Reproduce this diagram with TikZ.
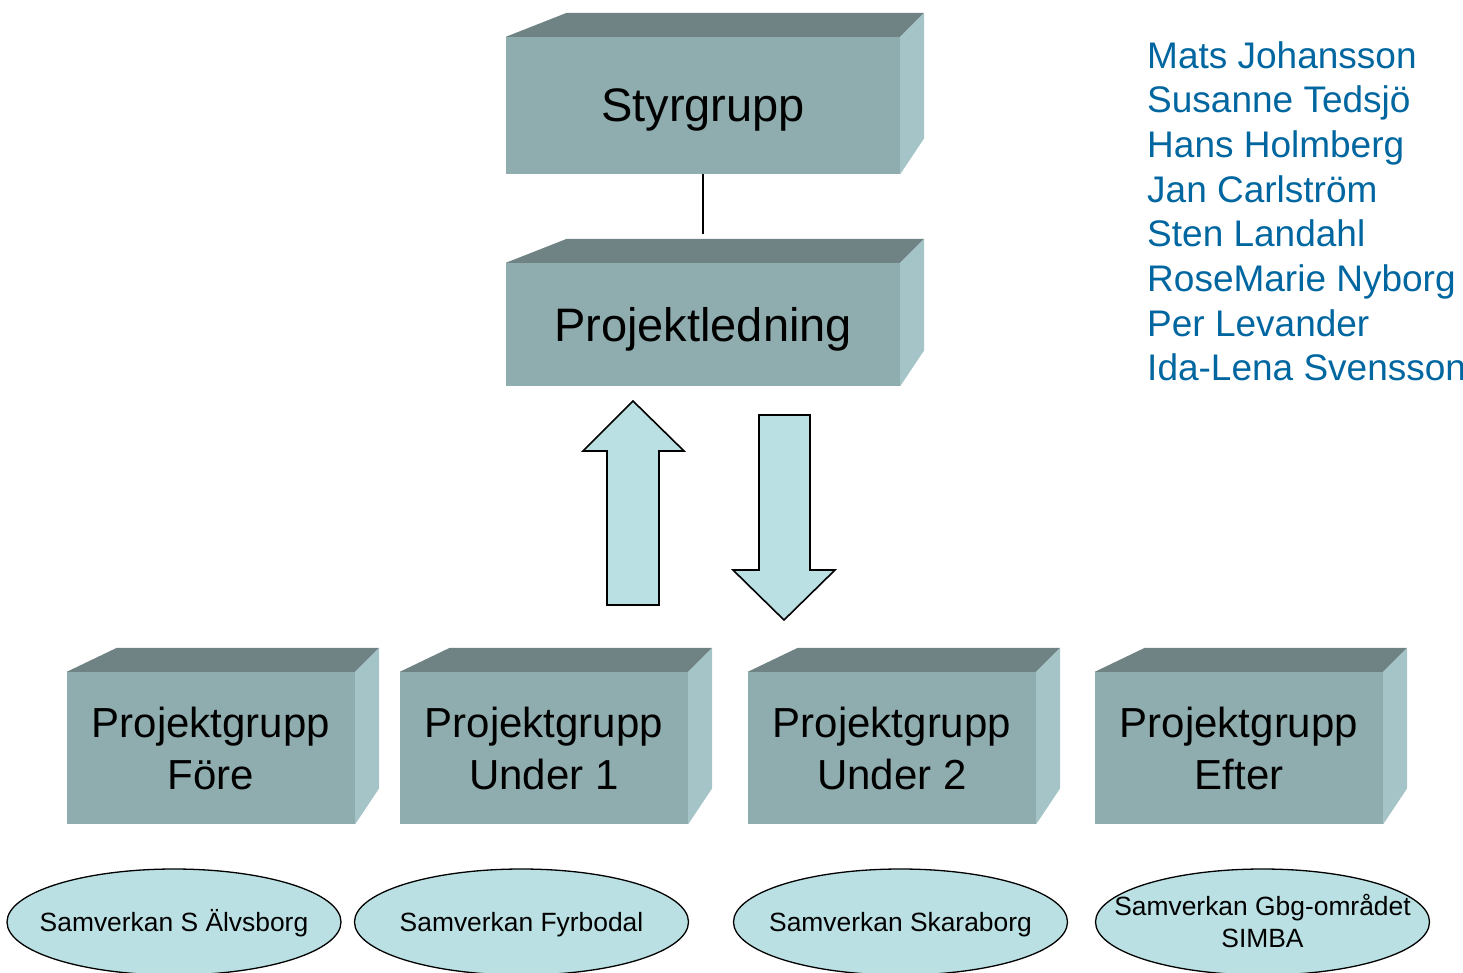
\documentclass[tikz,border=0pt]{standalone}
\usepackage{fontspec}
\setmainfont{Liberation Sans}
\usepackage{tikz}
\usetikzlibrary{shapes.geometric}

\definecolor{frente}{RGB}{143,173,175}
\definecolor{techo}{RGB}{111,131,133}
\definecolor{lado}{RGB}{165,196,199}
\definecolor{celeste}{RGB}{186,224,227}
\definecolor{azul}{RGB}{0,102,160}

% Caras superior y lateral de una caja (#1 nombre, #2 desplazamiento del techo).
\newcommand{\carasCaja}[2]{%
    \fill[techo] (#1.north west) -- ++(#2,-24) -- ([shift={(24,-24)}]#1.north east) -- (#1.north east) -- cycle;
    \fill[lado] (#1.north east) -- ++(24,-24) -- ([shift={(24,-36)}]#1.south east) -- (#1.south east) -- cycle;
}
% Texto sin ancho, para que la elipse no crezca.
\newcommand{\sinAncho}[1]{\makebox[0pt]{#1}}

\begin{document}
\begin{tikzpicture}[x = 1pt, y = -1pt, caja/.style = {fill = frente, inner sep = 0pt, text depth = 0pt, align = center}, samv/.style = {ellipse, draw, fill = celeste, line width = 1.3pt, minimum width = 334pt, minimum height = 106pt, inner sep = 0pt, font = \fontsize{26.4}{32}\selectfont, text height = 19pt, text depth = 0pt, align = center}, flecha/.style = {draw, fill = celeste, line width = 1.6pt, line join = miter}]
    \useasboundingbox (0, 0) rectangle (1463, 972);

    % Cajas superiores:
    \node[caja, minimum width = 394pt, minimum height = 137pt, font = \fontsize{47}{56}\selectfont] (sty) at (703, 105.5) {Styrgrupp};
    \carasCaja{sty}{61}
    \node[caja, minimum width = 394pt, minimum height = 123pt, font = \fontsize{47}{56}\selectfont] (pl) at (703, 324.5) {Projektledning};
    \carasCaja{pl}{61}

    \coordinate (finLinea) at (703, 234);
    \draw[line width = 1.3pt] (sty.south) -- (finLinea);

    % Flechas entre la ledning y los grupos.
    \draw[flecha] (607, 605) -- (607, 451) -- (583, 451) -- (633, 401) -- (684, 451) -- (659, 451) -- (659, 605) -- cycle;
    \draw[flecha] (759, 415) -- (759, 570) -- (733, 570) -- (784, 620) -- (835, 570) -- (810, 570) -- (810, 415) -- cycle;

    % Projektgrupper:
    \tikzset{grupo/.style = {caja, minimum width = 288pt, minimum height = 152pt, font = \fontsize{42}{52}\selectfont}}
    \node[grupo] (fore) at (211, 748) {Projektgrupp\\Före};
    \carasCaja{fore}{50}
    \node[grupo] (under1) at (544, 748) {Projektgrupp\\Under 1};
    \carasCaja{under1}{50}
    \node[grupo] (under2) at (892, 748) {Projektgrupp\\Under 2};
    \carasCaja{under2}{50}
    \node[grupo] (efter) at (1239, 748) {Projektgrupp\\Efter};
    \carasCaja{efter}{50}

    % Samverkan:
    \node[samv] (alvsborg) at (174, 922) {\sinAncho{Samverkan S Älvsborg}};
    \node[samv] (fyrbodal) at (521.5, 922) {\sinAncho{Samverkan Fyrbodal}};
    \node[samv] (skaraborg) at (900.5, 922) {\sinAncho{Samverkan Skaraborg}};
    \node[samv, text height = 51pt] (simba) at (1262.5, 922) {\sinAncho{Samverkan Gbg-området}\\\sinAncho{SIMBA}};

    % Deltagare:
    \node[anchor = north west, inner sep = 0pt, align = left, text = azul, font = \fontsize{37}{44.7}\selectfont] (namn) at (1147, 41) {Mats Johansson\\Susanne Tedsjö\\Hans Holmberg\\Jan Carlström\\Sten Landahl\\RoseMarie Nyborg\\Per Levander\\Ida-Lena Svensson};

\end{tikzpicture}
\end{document}
